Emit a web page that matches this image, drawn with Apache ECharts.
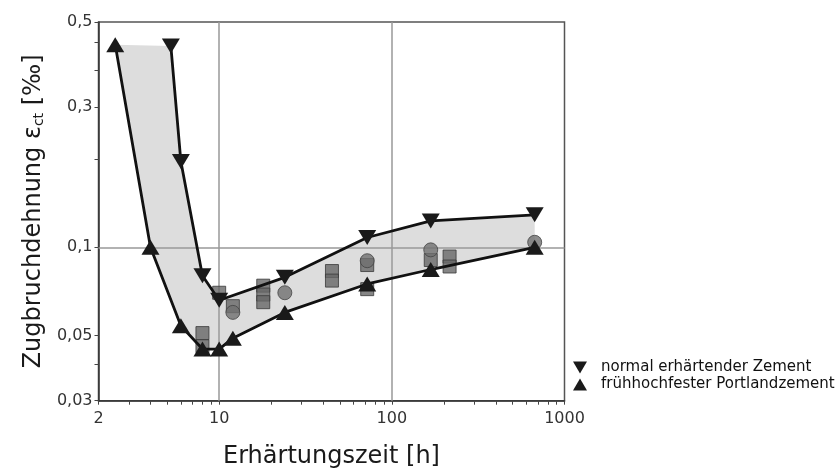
<!DOCTYPE html>
<html><head><meta charset="utf-8">
<script src="https://cdn.jsdelivr.net/npm/echarts@6/dist/echarts.min.js"></script>
<style>html,body{margin:0;padding:0;background:#fff}#c{width:840px;height:475px}</style>
</head><body><div id="c"></div>
<script>
// --- data ---
const normalName = 'normal erhärtender Zement';
const normalX = [5.25, 6, 8, 10, 24, 72, 168, 672];
const normalY = [0.485, 0.196, 0.08, 0.066, 0.079, 0.108, 0.123, 0.129];

const fruehName = 'frühhochfester Portlandzement';
const fruehX = [2.5, 4, 6, 8, 10, 12, 24, 72, 168, 672];
const fruehY = [0.49, 0.1, 0.054, 0.045, 0.045, 0.049, 0.06, 0.075, 0.084, 0.1];

const squareX = [8, 8, 10, 12, 18, 18, 18, 45, 45, 72, 72, 168, 216, 216];
const squareY = [0.051, 0.046, 0.07, 0.063, 0.074, 0.069, 0.065, 0.083, 0.077, 0.087, 0.072, 0.0905, 0.093, 0.086];

const circleX = [12, 24, 72, 168, 672];
const circleY = [0.06, 0.07, 0.09, 0.098, 0.104];

const xLabelValues = [2, 10, 100, 1000];
const xTickValues = [2,3,4,5,6,7,8,9,10,20,30,40,50,60,70,80,90,100,200,300,400,500,600,700,800,900,1000];
const yLabelValues = [0.03, 0.05, 0.1, 0.3, 0.586];
const yLabels = ['0,03', '0,05', '0,1', '0,3', '0,5'];
const yTickValues = [0.03, 0.04, 0.05, 0.1, 0.2, 0.3, 0.4, 0.5, 0.586];
const gridXValues = [10, 100];
const gridYValues = [0.1];

const xTitle = 'Erhärtungszeit [h]';

// --- chart ---
const FONT = 'DejaVu Sans';
const DOWN = 'path://M0,0L20,0L10,17Z';
const UP = 'path://M10,0L20,17L0,17Z';
const zip = (xs, ys) => xs.map((x, i) => [x, ys[i]]);

const chart = echarts.init(document.getElementById('c'), null, {renderer: 'canvas'});
chart.setOption({
  animation: false,
  backgroundColor: '#fff',
  textStyle: {fontFamily: FONT},
  grid: {left: 98.5, right: 275.5, top: 22, bottom: 74.3, show: true, borderColor: '#555', borderWidth: 1.5, backgroundColor: 'transparent'},
  legend: {
    orient: 'vertical', left: 568, top: 355, itemGap: 2, itemWidth: 14, itemHeight: 13,
    textStyle: {fontFamily: FONT, fontSize: 15, color: '#111', padding: [0, 0, 0, 9]},
    data: [{name: normalName, icon: DOWN}, {name: fruehName, icon: UP}],
    selectedMode: false
  },
  xAxis: {
    type: 'log', logBase: 10, min: 2, max: 1000,
    name: xTitle, nameLocation: 'middle', nameGap: 44,
    nameTextStyle: {fontFamily: FONT, fontSize: 24, color: '#1a1a1a'},
    axisLine: {show: true, lineStyle: {color: '#333', width: 1.5}},
    axisTick: {show: true, customValues: xTickValues, length: 4, lineStyle: {color: '#444', width: 1}},
    axisLabel: {customValues: xLabelValues, margin: 10, fontFamily: FONT, fontSize: 16, color: '#333', formatter: v => String(Math.round(v))},
    splitLine: {show: false}, minorTick: {show: false}
  },
  yAxis: {
    type: 'log', logBase: 10, min: 0.03, max: 0.586,
    name: 'Zugbruchdehnung ε{sub|ct} [‰]', nameLocation: 'middle', nameGap: 50, nameRotate: 90,
    nameTextStyle: {fontFamily: FONT, fontSize: 24, color: '#1a1a1a',
      rich: {sub: {fontFamily: FONT, fontSize: 14, color: '#1a1a1a', verticalAlign: 'bottom', padding: [10, 0, 0, 0]}}},
    axisLine: {show: true, lineStyle: {color: '#333', width: 1.5}},
    axisTick: {show: true, customValues: yTickValues, length: 4, lineStyle: {color: '#444', width: 1}},
    axisLabel: {customValues: yLabelValues, margin: 6, fontFamily: FONT, fontSize: 16, color: '#333',
      formatter: v => {
        let best = 0, bd = Infinity;
        yLabelValues.forEach((t, i) => { const d = Math.abs(Math.log(v) - Math.log(t)); if (d < bd) { bd = d; best = i; } });
        return yLabels[best];
      }},
    splitLine: {show: false}, minorTick: {show: false}
  },
  series: [
    {
      type: 'custom', name: 'band', z: 1, silent: true,
      data: [[normalX[0], normalY[0]]],
      encode: {x: 0, y: 1},
      renderItem: function (params, api) {
        const pts = [];
        for (let i = 0; i < normalX.length; i++) pts.push(api.coord([normalX[i], normalY[i]]));
        for (let i = fruehX.length - 1; i >= 0; i--) pts.push(api.coord([fruehX[i], fruehY[i]]));
        return {type: 'polygon', shape: {points: pts}, style: {fill: '#dddddd'}};
      },
      markLine: {
        silent: true, symbol: 'none', z: 1.5,
        label: {show: false},
        lineStyle: {color: '#999', width: 1.5, type: 'solid'},
        emphasis: {disabled: true},
        data: gridXValues.map(v => ({xAxis: v})).concat(gridYValues.map(v => ({yAxis: v})))
      }
    },
    {
      type: 'scatter', name: 'squares', z: 3, silent: true,
      data: zip(squareX, squareY), symbol: 'rect', symbolSize: [13, 13],
      itemStyle: {color: '#686868', borderColor: '#3a3a3a', borderWidth: 1}
    },
    {
      type: 'scatter', name: 'circles', z: 3, silent: true,
      data: zip(circleX, circleY), symbol: 'circle', symbolSize: 14,
      itemStyle: {color: '#707070', borderColor: '#444', borderWidth: 1}
    },
    {
      type: 'line', name: normalName, z: 4,
      data: zip(normalX, normalY), symbol: DOWN, symbolSize: [18, 15],
      itemStyle: {color: '#1a1a1a'}, lineStyle: {color: '#111', width: 2.8}
    },
    {
      type: 'line', name: fruehName, z: 4,
      data: zip(fruehX, fruehY), symbol: UP, symbolSize: [18, 15],
      itemStyle: {color: '#1a1a1a'}, lineStyle: {color: '#111', width: 2.8}
    }
  ]
});
</script>
</body></html>
